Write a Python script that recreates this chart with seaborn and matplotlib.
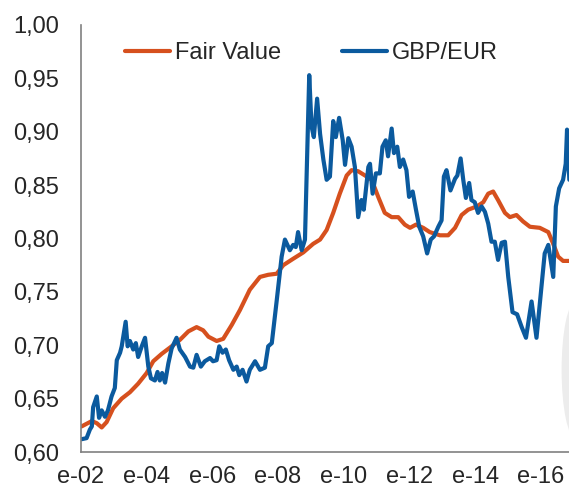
import matplotlib
matplotlib.use("Agg")
import matplotlib.pyplot as plt
from matplotlib.patches import Ellipse
import seaborn as sns

# fecha en años decimales
fair_years = [2002.02, 2002.33, 2002.48, 2002.63, 2002.78, 2002.98, 2003.24, 2003.49,
              2003.74, 2004.00, 2004.20, 2004.46, 2004.76, 2005.01, 2005.27, 2005.52,
              2005.72, 2005.88, 2006.13, 2006.33, 2006.59, 2006.84, 2007.14, 2007.45,
              2007.70, 2007.96, 2008.16, 2008.46, 2008.77, 2009.07, 2009.28, 2009.48,
              2009.68, 2009.88, 2010.09, 2010.24, 2010.44, 2010.65, 2010.85, 2011.05,
              2011.25, 2011.46, 2011.66, 2011.86, 2012.02, 2012.20, 2012.42, 2012.62,
              2012.93, 2013.18, 2013.39, 2013.59, 2013.79, 2014.05, 2014.25, 2014.40,
              2014.55, 2014.70, 2014.91, 2015.06, 2015.26, 2015.46, 2015.67, 2015.97,
              2016.23, 2016.38, 2016.53, 2016.68, 2016.87]
fair_value = [0.624, 0.629, 0.627, 0.623, 0.628, 0.641, 0.650, 0.656,
              0.664, 0.674, 0.685, 0.692, 0.699, 0.705, 0.713, 0.717,
              0.714, 0.708, 0.704, 0.706, 0.719, 0.733, 0.752, 0.764,
              0.766, 0.767, 0.775, 0.781, 0.787, 0.795, 0.799, 0.808,
              0.824, 0.842, 0.859, 0.864, 0.863, 0.859, 0.855, 0.839,
              0.824, 0.820, 0.820, 0.813, 0.810, 0.813, 0.810, 0.806,
              0.803, 0.803, 0.810, 0.822, 0.827, 0.830, 0.834, 0.842,
              0.844, 0.836, 0.824, 0.820, 0.822, 0.816, 0.811, 0.810,
              0.806, 0.795, 0.783, 0.779, 0.779]

gbp_years = [2002.02, 2002.17, 2002.27, 2002.33, 2002.37, 2002.48, 2002.55, 2002.63,
             2002.73, 2002.82, 2002.93, 2003.03, 2003.09, 2003.19, 2003.24, 2003.36,
             2003.42, 2003.49, 2003.59, 2003.67, 2003.74, 2003.85, 2003.95, 2004.05,
             2004.13, 2004.25, 2004.33, 2004.40, 2004.47, 2004.56, 2004.66, 2004.76,
             2004.91, 2005.01, 2005.17, 2005.32, 2005.42, 2005.52, 2005.65, 2005.77,
             2005.93, 2006.02, 2006.13, 2006.21, 2006.31, 2006.41, 2006.51, 2006.64,
             2006.74, 2006.82, 2006.92, 2007.04, 2007.14, 2007.30, 2007.45, 2007.60,
             2007.70, 2007.81, 2007.96, 2008.11, 2008.21, 2008.36, 2008.46, 2008.54,
             2008.61, 2008.72, 2008.82, 2008.95, 2009.02, 2009.09, 2009.19, 2009.28,
             2009.38, 2009.48, 2009.58, 2009.68, 2009.76, 2009.86, 2009.97, 2010.04,
             2010.14, 2010.24, 2010.34, 2010.44, 2010.54, 2010.61, 2010.75, 2010.80,
             2010.88, 2010.98, 2011.10, 2011.18, 2011.28, 2011.35, 2011.46, 2011.53,
             2011.63, 2011.71, 2011.81, 2011.91, 2011.99, 2012.10, 2012.20, 2012.30,
             2012.42, 2012.54, 2012.65, 2012.75, 2012.88, 2012.98, 2013.05, 2013.13,
             2013.25, 2013.39, 2013.46, 2013.56, 2013.64, 2013.72, 2013.82, 2013.89,
             2013.99, 2014.09, 2014.20, 2014.30, 2014.40, 2014.50, 2014.60, 2014.70,
             2014.81, 2014.91, 2015.01, 2015.14, 2015.28, 2015.42, 2015.55, 2015.72,
             2015.87, 2015.99, 2016.12, 2016.23, 2016.38, 2016.46, 2016.56, 2016.68,
             2016.76, 2016.80, 2016.87]
gbp_eur = [0.612, 0.613, 0.621, 0.624, 0.642, 0.652, 0.632, 0.639,
           0.633, 0.639, 0.652, 0.660, 0.686, 0.693, 0.699, 0.722,
           0.699, 0.704, 0.696, 0.702, 0.689, 0.699, 0.707, 0.680,
           0.669, 0.667, 0.675, 0.667, 0.674, 0.665, 0.683, 0.697,
           0.707, 0.696, 0.689, 0.680, 0.679, 0.691, 0.680, 0.685,
           0.688, 0.685, 0.686, 0.699, 0.693, 0.696, 0.686, 0.677,
           0.680, 0.672, 0.677, 0.666, 0.677, 0.685, 0.677, 0.679,
           0.699, 0.702, 0.742, 0.783, 0.799, 0.789, 0.794, 0.792,
           0.806, 0.789, 0.799, 0.953, 0.905, 0.895, 0.931, 0.898,
           0.874, 0.855, 0.858, 0.910, 0.895, 0.913, 0.892, 0.869,
           0.894, 0.886, 0.867, 0.820, 0.836, 0.827, 0.867, 0.870,
           0.842, 0.861, 0.861, 0.886, 0.892, 0.877, 0.903, 0.880,
           0.886, 0.867, 0.874, 0.864, 0.839, 0.844, 0.827, 0.811,
           0.802, 0.786, 0.799, 0.802, 0.811, 0.817, 0.858, 0.864,
           0.845, 0.856, 0.859, 0.875, 0.855, 0.838, 0.852, 0.836,
           0.834, 0.824, 0.830, 0.825, 0.814, 0.797, 0.797, 0.780,
           0.796, 0.797, 0.764, 0.731, 0.729, 0.717, 0.707, 0.741,
           0.707, 0.745, 0.786, 0.794, 0.764, 0.830, 0.847, 0.855,
           0.870, 0.902, 0.855]

tick_years = [2002, 2004, 2006, 2008, 2010, 2012, 2014, 2016]
tick_labels = ["e-02", "e-04", "e-06", "e-08", "e-10", "e-12", "e-14", "e-16"]
y_ticks = [0.60, 0.65, 0.70, 0.75, 0.80, 0.85, 0.90, 0.95, 1.00]

sns.set_style("white")
plt.rcParams['font.family'] = ['Liberation Sans', 'DejaVu Sans']
plt.rcParams['font.size'] = 17

fig = plt.figure(figsize=(5.69, 4.90), dpi=100)
ax = fig.add_axes([81 / 569, 38 / 490, 1 - 81 / 569, 427 / 490])

# mancha gris recortada en el borde derecho
ax.add_patch(Ellipse((1.012, 0.245), 0.05, 0.28, transform=fig.transFigure,
                     facecolor='#ececec', edgecolor='none', zorder=0.5, clip_on=False))

sns.lineplot(x=fair_years, y=fair_value, ax=ax, color='#d6501e', linewidth=3.0,
             label='Fair Value')
sns.lineplot(x=gbp_years, y=gbp_eur, ax=ax, color='#0b5a9e', linewidth=3.0,
             label='GBP/EUR')

ax.set_xlim(2002.0, 2016.86)
ax.set_ylim(0.60, 1.00)
ax.set_xticks(tick_years)
ax.set_xticklabels(tick_labels)
ax.set_yticks(y_ticks)
ax.set_yticklabels([f"{v:.2f}".replace('.', ',') for v in y_ticks])
ax.set_xlabel('')
ax.set_ylabel('')

for side in ['top', 'right']:
    ax.spines[side].set_visible(False)
for side in ['left', 'bottom']:
    ax.spines[side].set_color('#808080')
    ax.spines[side].set_linewidth(1.2)

ax.tick_params(axis='x', direction='out', length=5, width=1.2, color='#808080', pad=5)
ax.tick_params(axis='y', length=0, pad=16)

ax.legend(loc='center left', bbox_to_anchor=(125 / 569, 1 - 53 / 490),
          bbox_transform=fig.transFigure, ncol=2, frameon=False,
          borderpad=0, borderaxespad=0, handlelength=1.9, handletextpad=0.2,
          columnspacing=2.6, fontsize=17)

fig.savefig('out.png', dpi=100)
